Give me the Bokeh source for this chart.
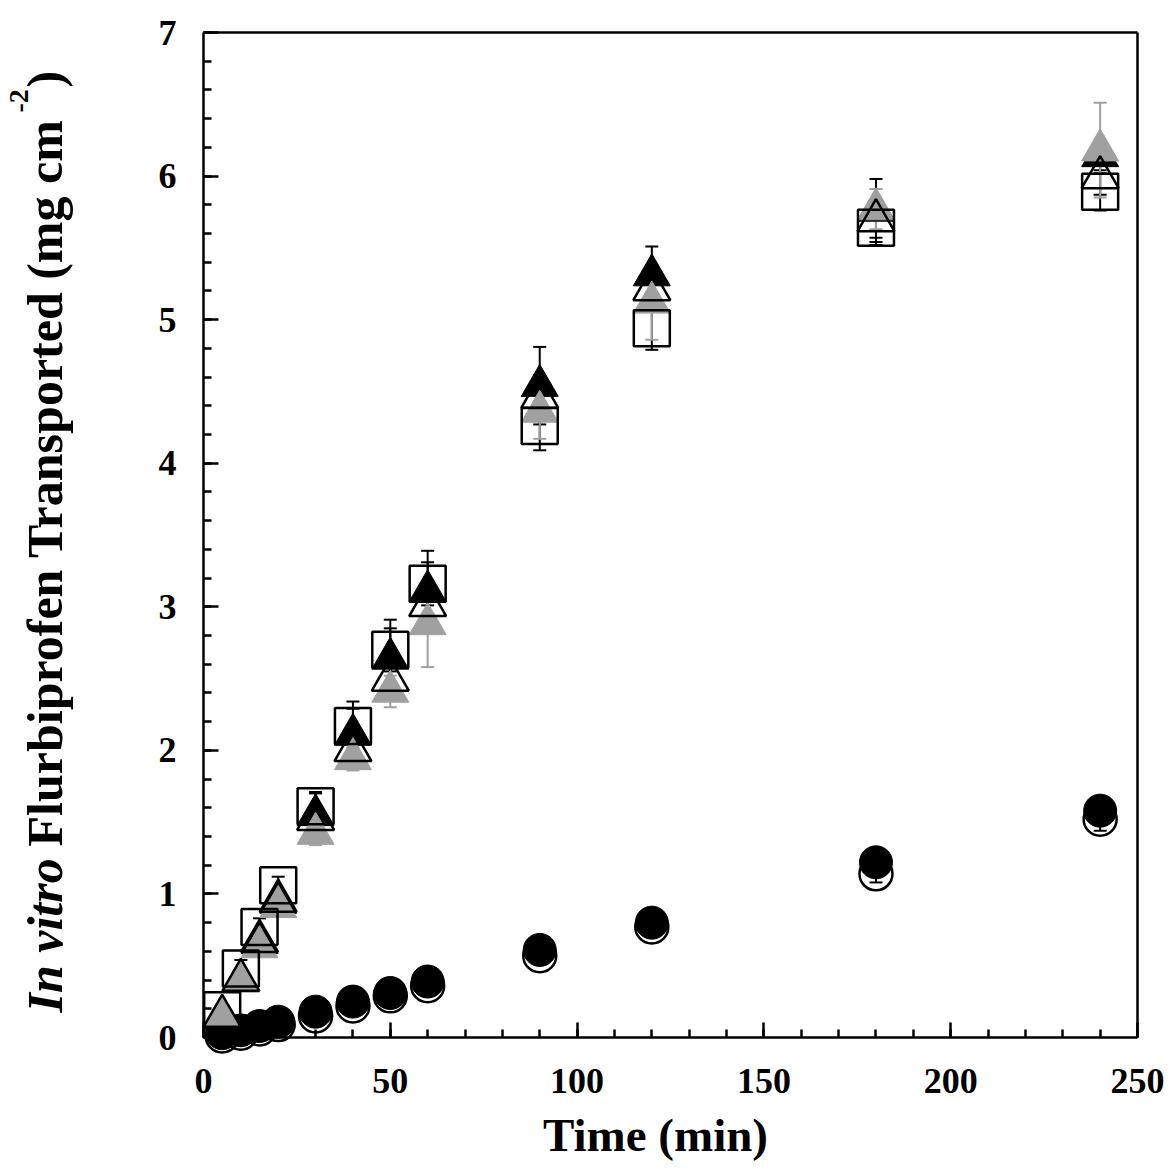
import numpy as np
from bokeh.plotting import figure
from bokeh.models import (Range1d, SingleIntervalTicker, FixedTicker, Label, Whisker,
                          TeeHead, ColumnDataSource, LinearAxis)
from bokeh.embed import file_html
from bokeh.resources import INLINE

# ---- data ----
time_min = [5, 10, 15, 20, 30, 40, 50, 60, 90, 120, 180, 240]

open_circle = [0.01, 0.03, 0.06, 0.09, 0.15, 0.22, 0.29, 0.36, 0.57, 0.77, 1.14, 1.52]
open_circle_sd = [0.005, 0.01, 0.01, 0.01, 0.02, 0.02, 0.02, 0.03, 0.03, 0.04, 0.06, 0.08]

filled_circle = [0.03, 0.05, 0.08, 0.11, 0.18, 0.25, 0.31, 0.39, 0.61, 0.80, 1.22, 1.58]
filled_circle_sd = [0.005, 0.01, 0.01, 0.01, 0.02, 0.02, 0.03, 0.03, 0.04, 0.05, 0.08, 0.10]

open_square = [0.19, 0.48, 0.77, 1.06, 1.61, 2.17, 2.70, 3.16, 4.26, 4.94, 5.64, 5.89]
open_square_sd = [0.03, 0.06, 0.06, 0.06, 0.10, 0.12, 0.15, 0.15, 0.17, 0.15, 0.12, 0.13]

open_triangle = [0.15, 0.40, 0.67, 0.95, 1.52, 2.00, 2.49, 3.01, 4.46, 5.21, 5.69, 5.99]
open_triangle_sd = [0.02, 0.04, 0.05, 0.05, 0.08, 0.10, 0.12, 0.12, 0.15, 0.15, 0.12, 0.12]

gray_triangle = [0.15, 0.39, 0.63, 0.91, 1.42, 1.94, 2.41, 2.88, 4.36, 5.12, 5.77, 6.18]
gray_triangle_sd = [0.02, 0.04, 0.05, 0.05, 0.08, 0.08, 0.11, 0.30, 0.19, 0.26, 0.14, 0.33]

black_triangle = [0.15, 0.40, 0.66, 0.94, 1.55, 2.11, 2.64, 3.11, 4.54, 5.31, 5.76, 6.14]
black_triangle_sd = [0.02, 0.04, 0.05, 0.05, 0.15, 0.23, 0.27, 0.28, 0.27, 0.20, 0.22, 0.10]

x_min, x_max = 0, 250
y_min, y_max = 0, 7
x_ticks_interval = 50
y_ticks_interval = 1

GRAY = "#a0a0a0"
SERIF = "Liberation Serif"

# layout in pixels: the plotting box inside the canvas
W, H = 1176, 1169
BOX_L, BOX_R, BOX_T, BOX_B = 203, 1137, 32, 1037
sx = (BOX_R - BOX_L) / (x_max - x_min)   # px per x unit
sy = (BOX_B - BOX_T) / (y_max - y_min)   # px per y unit

p = figure(width=W, height=H,
           x_range=Range1d(x_min - BOX_L / sx, x_max + (W - BOX_R) / sx),
           y_range=Range1d(y_min - (H - BOX_B) / sy, y_max + BOX_T / sy),
           output_backend="svg", toolbar_location=None,
           min_border=0, min_border_left=0, min_border_right=0,
           min_border_top=0, min_border_bottom=0)
p.grid.visible = False
p.outline_line_color = None
p.background_fill_color = "white"
p.border_fill_color = "white"

xa = p.xaxis[0]
ya = p.yaxis[0]
xa.fixed_location = y_min
ya.fixed_location = x_min
xa.bounds = (x_min, x_max)
ya.bounds = (y_min, y_max)
xa.ticker = SingleIntervalTicker(interval=x_ticks_interval, num_minor_ticks=5)
ya.ticker = SingleIntervalTicker(interval=y_ticks_interval, num_minor_ticks=5)
for ax in (xa, ya):
    ax.axis_line_width = 2.5
    ax.axis_line_color = "black"
    ax.major_tick_line_width = 2.5
    ax.minor_tick_line_width = 2.5
    ax.major_tick_in = 15
    ax.major_tick_out = 0
    ax.minor_tick_in = 8
    ax.minor_tick_out = 0
    ax.major_label_text_font = SERIF
    ax.major_label_text_font_style = "bold"
    ax.major_label_text_font_size = "36px"
    ax.major_label_text_color = "black"
xa.major_label_standoff = 31
ya.major_label_standoff = 27

# top and right frame lines (axes without ticks)
top_ax = LinearAxis(fixed_location=y_max, bounds=(x_min, x_max), ticker=FixedTicker(ticks=[]),
                    axis_line_width=2.5, major_tick_in=0, major_tick_out=0,
                    minor_tick_in=0, minor_tick_out=0, major_label_text_font_size="0px")
right_ax = LinearAxis(fixed_location=x_max, bounds=(y_min, y_max), ticker=FixedTicker(ticks=[]),
                      axis_line_width=2.5, major_tick_in=0, major_tick_out=0,
                      minor_tick_in=0, minor_tick_out=0, major_label_text_font_size="0px")
p.add_layout(top_ax, "above")
p.add_layout(right_ax, "right")


def errbars(xs, ys, sds, color, width):
    src = ColumnDataSource(dict(x=xs,
                                lo=[a - b for a, b in zip(ys, sds)],
                                hi=[a + b for a, b in zip(ys, sds)]))
    w = Whisker(base="x", lower="lo", upper="hi", source=src,
                line_color=color, line_width=width,
                upper_head=TeeHead(size=13, line_color=color, line_width=width),
                lower_head=TeeHead(size=13, line_color=color, line_width=width))
    p.add_layout(w)


errbars(time_min, open_circle, open_circle_sd, "black", 2)
errbars(time_min, filled_circle, filled_circle_sd, "black", 2)
errbars(time_min, open_square, open_square_sd, "black", 2)
errbars(time_min, open_triangle, open_triangle_sd, "black", 2)
errbars(time_min, black_triangle, black_triangle_sd, "black", 2)
errbars(time_min, gray_triangle, gray_triangle_sd, GRAY, 2)

p.scatter(time_min, open_circle, marker="circle", size=33,
          fill_color=None, line_color="black", line_width=2.5)
p.scatter(time_min, filled_circle, marker="circle", size=33,
          fill_color="black", line_color="black", line_width=1)
p.scatter(time_min, black_triangle, marker="triangle", size=37,
          fill_color="black", line_color="black", line_width=1)
p.scatter(time_min, gray_triangle, marker="triangle", size=37,
          fill_color=GRAY, line_color=GRAY, line_width=1)
p.scatter(time_min, open_triangle, marker="triangle", size=37,
          fill_color=None, line_color="black", line_width=2.5)
p.scatter(time_min, open_square, marker="square", size=36,
          fill_color=None, line_color="black", line_width=2.5)


# ---- axis titles (labels, so that "In vitro" can be italic) ----
def px_x(px):   # canvas pixel column -> data x
    return x_min + (px - BOX_L) / sx


def px_y(py):   # canvas pixel row -> data y
    return y_min + (BOX_B - py) / sy


p.add_layout(Label(x=px_x(655), y=px_y(1134), text="Time (min)",
                   text_font=SERIF, text_font_style="bold", text_font_size="47px",
                   text_align="center", text_baseline="alphabetic", text_color="black"))

ybase = px_x(44)
p.add_layout(Label(x=ybase, y=px_y(1012), text="In vitro", angle=np.pi / 2,
                   text_font=SERIF, text_font_style="bold italic", text_font_size="50px",
                   text_align="left", text_baseline="alphabetic", text_color="black"))
p.add_layout(Label(x=ybase, y=px_y(846), text="Flurbiprofen Transported (mg cm", angle=np.pi / 2,
                   text_font=SERIF, text_font_style="bold", text_font_size="50px",
                   text_align="left", text_baseline="alphabetic", text_color="black"))
p.add_layout(Label(x=px_x(18), y=px_y(112), text="-2", angle=np.pi / 2,
                   text_font=SERIF, text_font_style="bold", text_font_size="28px",
                   text_align="left", text_baseline="alphabetic", text_color="black"))
p.add_layout(Label(x=ybase, y=px_y(87), text=")", angle=np.pi / 2,
                   text_font=SERIF, text_font_style="bold", text_font_size="50px",
                   text_align="left", text_baseline="alphabetic", text_color="black"))

open("out.html", "w").write(file_html(p, INLINE))
